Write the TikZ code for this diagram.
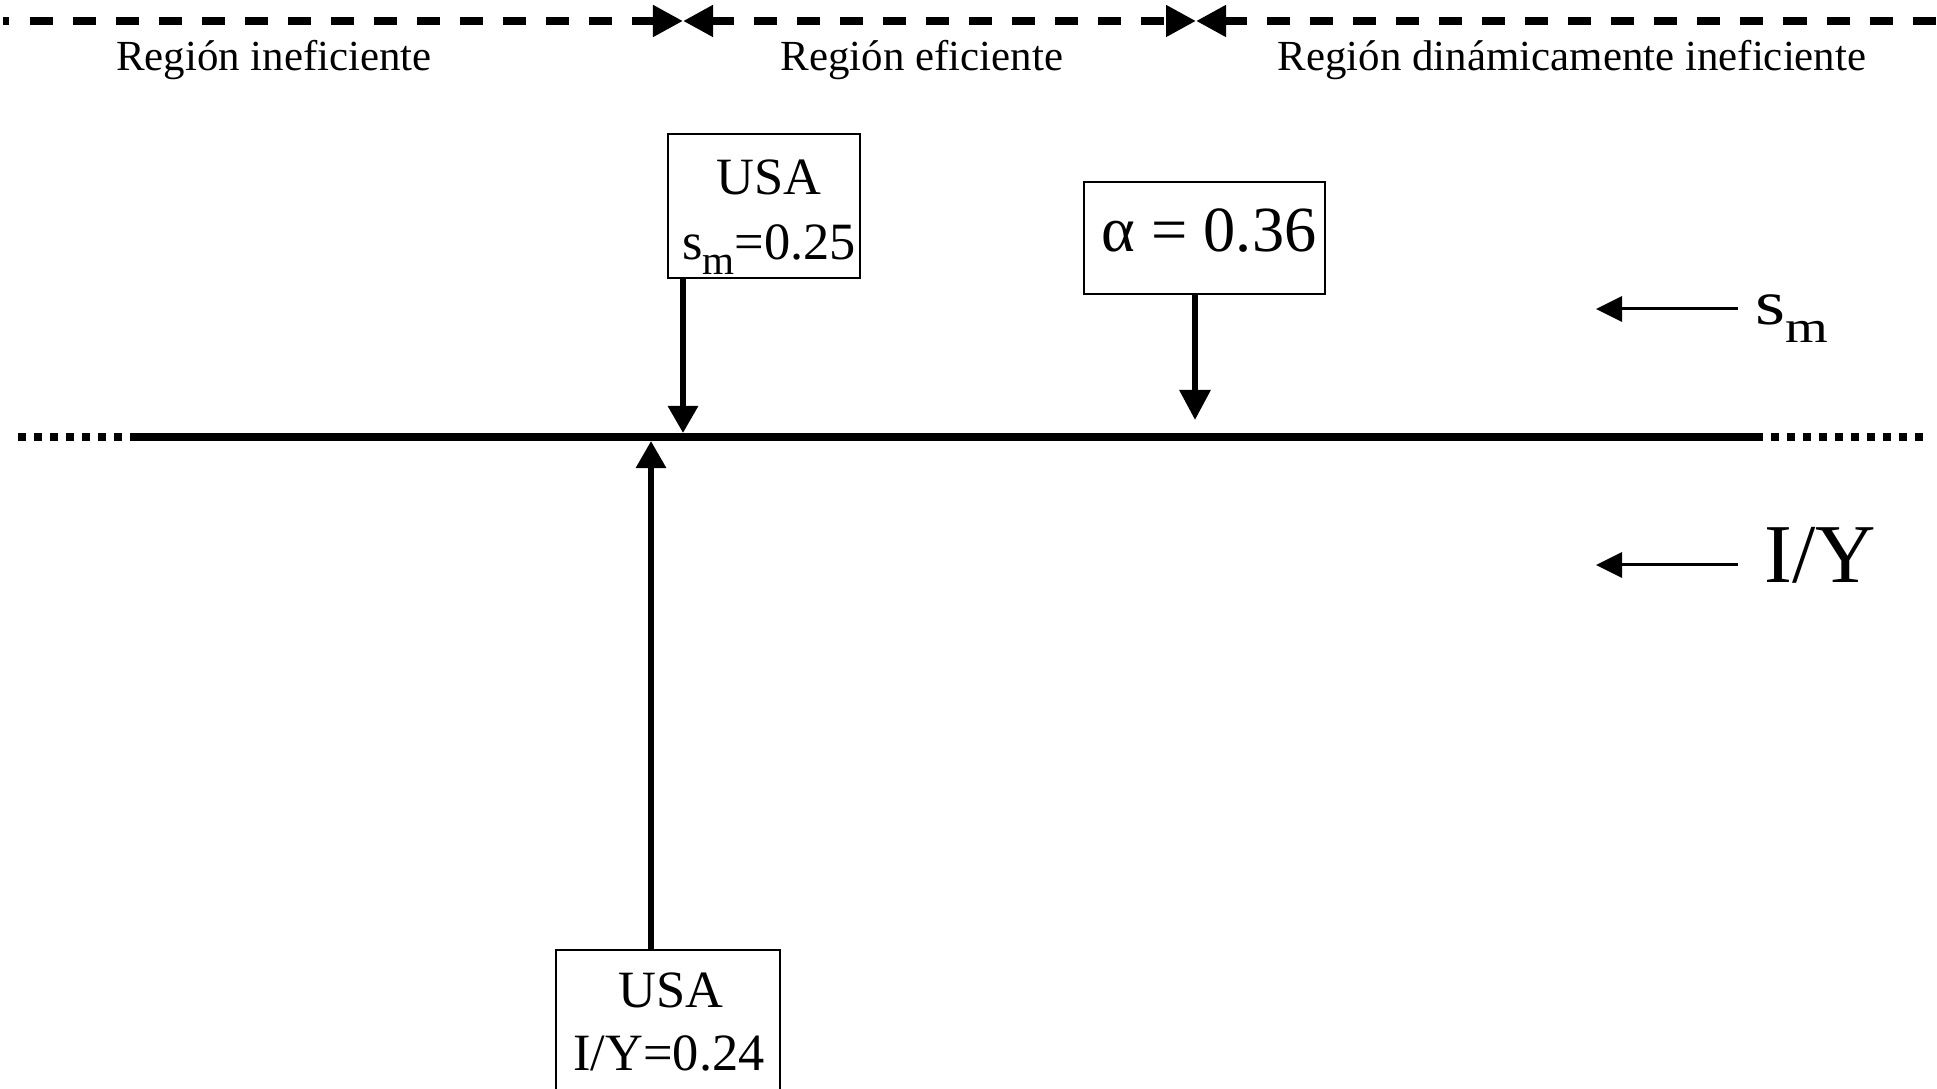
\documentclass[tikz,border=0pt]{standalone}
\usepackage{fontspec}
\usepackage{graphicx}
\setmainfont{Liberation Serif}
\usetikzlibrary{arrows.meta}
\begin{document}
\begin{tikzpicture}[x=0.01cm,y=-0.01cm,
  txt/.style={inner sep=0pt, anchor=base},
  region/.style={txt, font=\fontsize{12.2}{14}\selectfont},
  boxtxt/.style={txt, font=\fontsize{14.9}{18}\selectfont},
  valbox/.style={draw, line width=0.5pt, inner sep=0pt, anchor=north west},
  bound/.style={line width=0.08cm, dash pattern=on 0.23cm off 0.2cm,
    >={Triangle[length=0.3cm,width=0.3cm]}},
  axisline/.style={line width=0.08cm},
  axisdots/.style={line width=0.08cm, dash pattern=on 0.08cm off 0.08cm},
  pointer/.style={line width=0.06cm, -{Triangle[length=0.27cm,width=0.29cm]}},
  side/.style={line width=0.03cm, -{Triangle[length=0.26cm,width=0.25cm]}}
]
\clip (0,0) rectangle (1937,1089);
\fill[white] (0,0) rectangle (1937,1089);

% boundaries between the three regions
\coordinate (b0) at (3,21);
\coordinate (b1) at (683,21);
\coordinate (b2) at (1196,21);
\coordinate (b3) at (1937,21);
\draw[bound, <-] (b1) -- (b0);
\draw[bound, <->] (b1) -- (b2);
\draw[bound, <-] (b2) -- (b3);

\node[region] (r1) at (274,71) {Región ineficiente};
\node[region] (r2) at (922,71) {Región eficiente};
\node[region] (r3) at (1572,71) {Región dinámicamente ineficiente};

% the axis
\coordinate (m0) at (18,437);
\coordinate (m1) at (138,437);
\coordinate (m2) at (1755,437);
\coordinate (m3) at (1923,437);
\draw[axisdots] (m0) -- (m1);
\draw[axisline] (m1) -- (m2);
\draw[axisdots] (m2) -- (m3);

% USA saving rate
\node[valbox, minimum width=1.92cm, minimum height=1.44cm] (smbox) at (667,133) {};
\node[boxtxt] (smusa) at (769,195) {USA};
\node[boxtxt] (smval) at (769,260) {s\raisebox{-4pt}{\fontsize{11.7}{12}\selectfont m}=0.25};
\coordinate (tA) at (683,433);
\draw[pointer] (smbox.south -| tA) -- (tA);

% capital share
\node[valbox, minimum width=2.41cm, minimum height=1.12cm] (abox) at (1083,181) {};
\node[txt, font=\fontsize{18.3}{21}\selectfont] (aval) at (1209,252) {α = 0.36};
\coordinate (tB) at (1195,420);
\draw[pointer, -{Triangle[length=0.3cm,width=0.3cm]}] (abox.south -| tB) -- (tB);

% USA investment rate
\node[valbox, minimum width=2.24cm, minimum height=2cm] (iybox) at (555,949) {};
\node[boxtxt] (iyusa) at (671,1007) {USA};
\node[boxtxt] (iyval) at (669,1070) {I/Y=0.24};
\coordinate (tC) at (651,441);
\draw[pointer] (iybox.north -| tC) -- (tC);

% legend on the right
\node[txt, anchor=base west, font=\fontsize{18}{20}\selectfont] (smlab) at (1755,325)
  {\scalebox{1.22}[1]{s\raisebox{-5.1pt}{\fontsize{12.8}{13}\selectfont m}}};
\coordinate (sTail) at (1738,309);
\coordinate (sHead) at (1596,309);
\draw[side] (sTail) -- (sHead);

\node[txt, anchor=base west, font=\fontsize{23.8}{27}\selectfont] (iylab) at (1764,583) {I/Y};
\coordinate (iTail) at (1738,565);
\coordinate (iHead) at (1596,565);
\draw[side] (iTail) -- (iHead);
\end{tikzpicture}
\end{document}
